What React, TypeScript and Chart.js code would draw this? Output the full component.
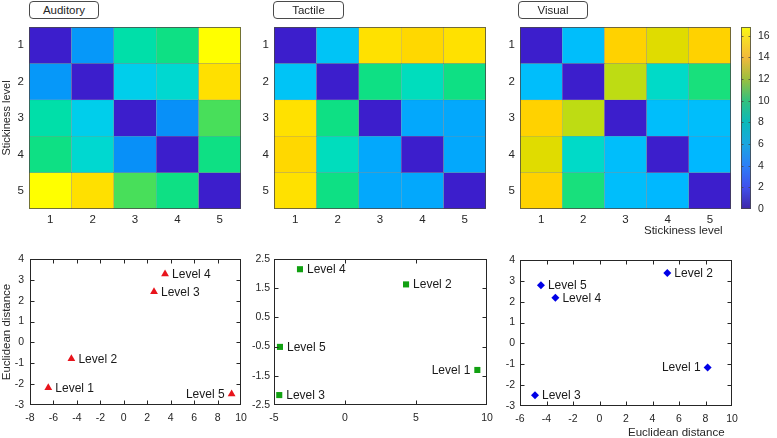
import React, { useEffect, useRef } from 'react';
import { Chart, registerables } from 'chart.js';

Chart.register(...registerables);

const W = 777;
const H = 438;
const FONT = '"Liberation Sans", Arial, Helvetica, sans-serif';
const TEXT = '#262626';

Chart.defaults.font.family = FONT;
Chart.defaults.color = TEXT;

// ---------- Heatmap data ----------
const levels = ['1', '2', '3', '4', '5'];
const auditoryMatrix = [
  [0, 5.2, 9.4, 10.3, 16.8],
  [5.2, 0, 7.2, 8.2, 15.3],
  [9.4, 7.2, 0, 5.0, 11.2],
  [10.3, 8.2, 5.0, 0, 10.3],
  [16.8, 15.3, 11.2, 10.3, 0],
];
const tactileMatrix = [
  [0, 6.6, 15.4, 14.7, 15.4],
  [6.6, 0, 10.3, 8.9, 10.3],
  [15.4, 10.3, 0, 5.6, 5.6],
  [14.7, 8.9, 5.6, 0, 5.6],
  [15.4, 10.3, 5.6, 5.6, 0],
];
const visualMatrix = [
  [0, 6.3, 14.2, 13.0, 14.2],
  [6.3, 0, 12.4, 8.5, 10.5],
  [14.2, 12.4, 0, 6.3, 6.3],
  [13.0, 8.5, 6.3, 0, 6.0],
  [14.2, 10.5, 6.3, 6.0, 0],
];
const colorbarMax = 16.8;
const colorbarTicks = [0, 2, 4, 6, 8, 10, 12, 14, 16];

type Stop = [number, string];
const cellColorStops: Stop[] = [
  [0, '#3C1ECC'], [2, '#3A40E8'], [4, '#1E78FF'], [5, '#0890F8'], [6, '#00B8FF'],
  [7, '#00CCF0'], [8, '#00D6D6'], [9, '#00DEBA'], [10, '#00E090'], [11, '#30E068'],
  [12, '#A8DC20'], [13, '#E0DC00'], [14, '#FFD000'], [15.5, '#FFE200'], [16.8, '#FFFF00'],
];
const colorbarStops: Stop[] = [
  [0, '#3E26A8'], [2, '#4050EC'], [4, '#2C7FF8'], [6, '#1AA6E0'], [8, '#0BB9BA'],
  [10, '#34C17E'], [12, '#9CBF3E'], [14, '#F2B93C'], [16, '#F8E422'], [16.8, '#F9FB0E'],
];

// ---------- Scatter data ----------
const pointLabels = ['Level 1', 'Level 2', 'Level 3', 'Level 4', 'Level 5'];
const auditoryX = [-6.44, -4.47, 2.58, 3.52, 9.2];
const auditoryY = [-2.17, -0.78, 2.43, 3.28, -2.47];
const auditorySides = ['right', 'right', 'right', 'right', 'left'];
const tactileX = [9.32, 4.3, -4.63, -3.17, -4.58];
const tactileY = [-1.3, 1.63, -2.16, 2.15, -0.51];
const tactileSides = ['left', 'right', 'right', 'right', 'right'];
const visualX = [8.16, 5.12, -4.87, -3.33, -4.42];
const visualY = [-1.15, 3.38, -2.49, 2.19, 2.79];
const visualSides = ['left', 'right', 'right', 'right', 'right'];

const auditoryXTicks = [-8, -6, -4, -2, 0, 2, 4, 6, 8, 10];
const auditoryYTicks = [-3, -2, -1, 0, 1, 2, 3, 4];
const tactileXTicks = [-5, 0, 5, 10];
const tactileYTicks = [-2.5, -2, -1.5, -1, -0.5, 0, 0.5, 1, 1.5, 2, 2.5];
const visualXTicks = [-6, -4, -2, 0, 2, 4, 6, 8, 10];
const visualYTicks = [-3, -2, -1, 0, 1, 2, 3, 4];

// ---------- helpers ----------
function hexToRgb(h: string) {
  const n = parseInt(h.slice(1), 16);
  return [(n >> 16) & 255, (n >> 8) & 255, n & 255];
}
function colorAt(stops: Stop[], v: number) {
  if (v <= stops[0][0]) return stops[0][1];
  for (let i = 1; i < stops.length; i++) {
    if (v <= stops[i][0]) {
      const [v0, c0] = stops[i - 1];
      const [v1, c1] = stops[i];
      const t = (v - v0) / (v1 - v0);
      const a = hexToRgb(c0);
      const b = hexToRgb(c1);
      return `rgb(${a.map((x, k) => Math.round(x + (b[k] - x) * t)).join(',')})`;
    }
  }
  return stops[stops.length - 1][1];
}

const base = {
  responsive: false,
  animation: false,
  devicePixelRatio: 1,
  events: [] as any[],
};
const noLegend = { legend: { display: false }, tooltip: { enabled: false } };
const noGrid = { display: false, drawTicks: false };

function framePlugin(color: string, tickLen: number) {
  return {
    id: 'frame',
    afterDatasetsDraw(chart: any) {
      const { ctx, chartArea: a, scales } = chart;
      const l = Math.round(a.left) + 0.5;
      const r = Math.round(a.right) - 0.5;
      const t = Math.round(a.top) + 0.5;
      const b = Math.round(a.bottom) - 0.5;
      ctx.save();
      ctx.strokeStyle = color;
      ctx.lineWidth = 1;
      ctx.beginPath();
      if (tickLen > 0) {
        const xs = scales.x;
        const ys = scales.y;
        if (xs && xs.options.display !== false) {
          xs.ticks.forEach((tk: any) => {
            const px = Math.round(xs.getPixelForValue(tk.value)) + 0.5;
            if (px <= l + 1 || px >= r - 1) return;
            ctx.moveTo(px, b); ctx.lineTo(px, b - tickLen);
            ctx.moveTo(px, t); ctx.lineTo(px, t + tickLen);
          });
        }
        ys.ticks.forEach((tk: any) => {
          const py = Math.round(ys.getPixelForValue(tk.value)) + 0.5;
          if (py <= t + 1 || py >= b - 1) return;
          ctx.moveTo(l, py); ctx.lineTo(l + tickLen, py);
          ctx.moveTo(r, py); ctx.lineTo(r - tickLen, py);
        });
      }
      ctx.stroke();
      ctx.strokeRect(l, t, r - l, b - t);
      ctx.restore();
    },
  };
}

function labelPlugin(labels: string[], sides: string[]) {
  return {
    id: 'pointText',
    afterDatasetsDraw(chart: any) {
      const { ctx } = chart;
      const meta = chart.getDatasetMeta(0);
      ctx.save();
      ctx.font = `12px ${FONT}`;
      ctx.fillStyle = '#1a1a1a';
      ctx.textBaseline = 'middle';
      meta.data.forEach((el: any, i: number) => {
        const left = sides[i] === 'left';
        ctx.textAlign = left ? 'right' : 'left';
        ctx.fillText(labels[i], el.x + (left ? -7 : 7), el.y + 0.5);
      });
      ctx.restore();
    },
  };
}

type Rect = { L: number; T: number; R: number; B: number };

function heatmapConfig(matrix: number[][], rect: Rect, yW: number, yTitle?: string) {
  const xH = 20;
  return {
    type: 'bar',
    data: {
      labels: levels,
      datasets: matrix.map((row, r) => ({
        data: row.map(() => [r + 0.5, r + 1.5]),
        backgroundColor: row.map((v) => colorAt(cellColorStops, v)),
        borderColor: 'rgba(40,40,40,0.35)',
        borderWidth: 0.5,
        borderSkipped: false,
        grouped: false,
        barPercentage: 1,
        categoryPercentage: 1,
      })),
    },
    options: {
      ...base,
      layout: { padding: { left: rect.L - yW, top: rect.T, right: W - rect.R, bottom: H - rect.B - xH } },
      plugins: noLegend,
      scales: {
        x: {
          type: 'category',
          grid: noGrid,
          border: { display: false },
          ticks: { font: { size: 11.5 }, padding: 4, color: TEXT, maxRotation: 0 },
          afterFit: (s: any) => { s.height = xH; },
        },
        y: {
          type: 'linear',
          min: 0.5,
          max: 5.5,
          reverse: true,
          grid: noGrid,
          border: { display: false },
          afterBuildTicks: (s: any) => { s.ticks = levels.map((_, i) => ({ value: i + 1 })); },
          ticks: { font: { size: 11.5 }, padding: 5, color: TEXT, callback: (_v: any, i: number) => levels[i] },
          title: yTitle
            ? { display: true, text: yTitle, font: { size: 11 }, color: TEXT, padding: { top: 0, bottom: 0 } }
            : { display: false },
          afterFit: (s: any) => { s.width = yW; },
        },
      },
    },
    plugins: [framePlugin('rgba(60,60,60,0.7)', 0)],
  };
}

function colorbarConfig(rect: Rect) {
  const rW = 26;
  return {
    type: 'bar',
    data: {
      labels: [''],
      datasets: [
        {
          data: [[0, colorbarMax]],
          backgroundColor: (ctx: any) => {
            const chart = ctx.chart;
            if (!chart.chartArea) return 'transparent';
            const y = chart.scales.y;
            const g = chart.ctx.createLinearGradient(0, y.getPixelForValue(0), 0, y.getPixelForValue(colorbarMax));
            colorbarStops.forEach(([v, c]) => g.addColorStop(v / colorbarMax, c));
            return g;
          },
          borderWidth: 0,
          barPercentage: 1,
          categoryPercentage: 1,
        },
      ],
    },
    options: {
      ...base,
      layout: { padding: { left: rect.L, top: rect.T, right: W - rect.R - rW, bottom: H - rect.B } },
      plugins: noLegend,
      scales: {
        x: { type: 'category', display: false },
        y: {
          type: 'linear',
          position: 'right',
          min: 0,
          max: colorbarMax,
          grid: noGrid,
          border: { display: false },
          afterBuildTicks: (s: any) => { s.ticks = colorbarTicks.map((v) => ({ value: v })); },
          ticks: { font: { size: 10.5 }, padding: 7, color: TEXT, callback: (v: any) => String(v) },
          afterFit: (s: any) => { s.width = rW; },
        },
      },
    },
    plugins: [framePlugin('rgba(70,70,70,0.8)', 2)],
  };
}

function scatterConfig(
  xs: number[], ys: number[], sides: string[], rect: Rect,
  xTicks: number[], yTicks: number[], yW: number, yPad: number,
  style: { pointStyle: string; radius: number; color: string },
  yLabel: (v: number) => string,
  yTitle?: string,
) {
  const xH = 24;
  return {
    type: 'scatter',
    data: {
      datasets: [
        {
          data: xs.map((x, i) => ({ x, y: ys[i] })),
          pointStyle: style.pointStyle,
          pointRadius: style.radius,
          backgroundColor: style.color,
          borderColor: style.color,
          borderWidth: 0,
        },
      ],
    },
    options: {
      ...base,
      layout: { padding: { left: rect.L - yW, top: rect.T, right: W - rect.R, bottom: H - rect.B - xH } },
      plugins: noLegend,
      scales: {
        x: {
          type: 'linear',
          min: xTicks[0],
          max: xTicks[xTicks.length - 1],
          grid: noGrid,
          border: { display: false },
          afterBuildTicks: (s: any) => { s.ticks = xTicks.map((v) => ({ value: v })); },
          ticks: { font: { size: 10.5 }, padding: 7, color: TEXT, maxRotation: 0, callback: (v: any) => String(v) },
          afterFit: (s: any) => { s.height = xH; },
        },
        y: {
          type: 'linear',
          min: yTicks[0],
          max: yTicks[yTicks.length - 1],
          grid: noGrid,
          border: { display: false },
          afterBuildTicks: (s: any) => { s.ticks = yTicks.map((v) => ({ value: v })); },
          ticks: { font: { size: 10.5 }, padding: yPad, color: TEXT, callback: (v: any) => yLabel(v) },
          title: yTitle
            ? { display: true, text: yTitle, font: { size: 11.5 }, color: TEXT, padding: { top: 0, bottom: 0 } }
            : { display: false },
          afterFit: (s: any) => { s.width = yW; },
        },
      },
    },
    plugins: [framePlugin('#262626', 4), labelPlugin(pointLabels, sides)],
  };
}

function ChartCanvas({ make }: { make: () => any }) {
  const ref = useRef<HTMLCanvasElement>(null);
  useEffect(() => {
    const chart = new Chart(ref.current as HTMLCanvasElement, make());
    return () => chart.destroy();
  }, []);
  return (
    <canvas
      ref={ref}
      width={W}
      height={H}
      style={{ position: 'absolute', left: 0, top: 0, width: W, height: H }}
    />
  );
}

function TitleBox({ text, left, width }: { text: string; left: number; width: number }) {
  return (
    <div
      style={{
        position: 'absolute',
        left,
        top: 1,
        width,
        height: 18,
        boxSizing: 'border-box',
        border: '1px solid #4a4a4a',
        borderRadius: 4,
        background: '#fff',
        font: `11.5px ${FONT}`,
        color: TEXT,
        lineHeight: '16px',
        textAlign: 'center',
      }}
    >
      {text}
    </div>
  );
}

function AxisLabel({ text, left, top }: { text: string; left: number; top: number }) {
  return (
    <div
      style={{
        position: 'absolute',
        left,
        top,
        font: `11.5px ${FONT}`,
        color: TEXT,
        lineHeight: '13px',
        whiteSpace: 'nowrap',
      }}
    >
      {text}
    </div>
  );
}

const fmt = (v: number) => String(v);
const halfOnly = (v: number) => (Math.abs(Math.abs(v % 1) - 0.5) < 1e-9 ? String(v) : '');

export default function App() {
  return (
    <div style={{ position: 'absolute', left: 0, top: 0, width: W, height: H, background: '#fff', overflow: 'hidden' }}>
      <ChartCanvas make={() => heatmapConfig(auditoryMatrix, { L: 29, T: 27, R: 241, B: 209 }, 29, 'Stickiness level')} />
      <ChartCanvas make={() => heatmapConfig(tactileMatrix, { L: 274, T: 27, R: 486, B: 209 }, 24)} />
      <ChartCanvas make={() => heatmapConfig(visualMatrix, { L: 520, T: 27, R: 731, B: 209 }, 24)} />
      <ChartCanvas make={() => colorbarConfig({ L: 741, T: 27, R: 751, B: 209 })} />
      <ChartCanvas
        make={() =>
          scatterConfig(auditoryX, auditoryY, auditorySides, { L: 30, T: 259, R: 241, B: 405 },
            auditoryXTicks, auditoryYTicks, 30, 6,
            { pointStyle: 'triangle', radius: 4.5, color: '#E8141C' }, fmt, 'Euclidean distance')
        }
      />
      <ChartCanvas
        make={() =>
          scatterConfig(tactileX, tactileY, tactileSides, { L: 274, T: 259, R: 487, B: 405 },
            tactileXTicks, tactileYTicks, 24, 4,
            { pointStyle: 'rect', radius: 4.3, color: '#11A011' }, halfOnly)
        }
      />
      <ChartCanvas
        make={() =>
          scatterConfig(visualX, visualY, visualSides, { L: 520, T: 260, R: 732, B: 406 },
            visualXTicks, visualYTicks, 24, 5,
            { pointStyle: 'rectRot', radius: 4, color: '#0000E6' }, fmt)
        }
      />
      <TitleBox text="Auditory" left={29} width={70} />
      <TitleBox text="Tactile" left={273} width={71} />
      <TitleBox text="Visual" left={518} width={70} />
      <AxisLabel text="Stickiness level" left={644} top={224} />
      <AxisLabel text="Euclidean distance" left={628} top={426} />
    </div>
  );
}
